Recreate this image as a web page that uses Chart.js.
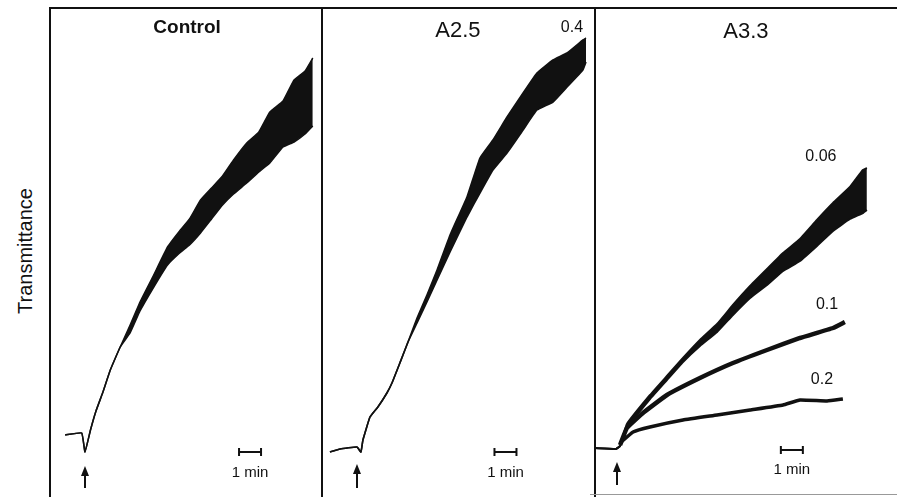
<!DOCTYPE html>
<html>
<head>
<meta charset="utf-8">
<script src="https://cdn.jsdelivr.net/npm/chart.js@4.4.1/dist/chart.umd.min.js"></script>
<style>
  html, body { margin: 0; padding: 0; background: #fff; }
  #fig { position: relative; width: 897px; height: 497px; overflow: hidden; font-family: 'Liberation Sans', Arial, sans-serif; }
  #fig canvas { position: absolute; top: 8px; }
  .rule { position: absolute; background: #111; }
  #ylabel { position: absolute; left: 25px; top: 251px; transform: translate(-50%, -50%) rotate(-90deg); font-size: 20px; white-space: nowrap; color: #111; }
</style>
</head>
<body>
<div id="fig">
  <canvas id="p1" width="272" height="489" style="left:50px"></canvas>
  <canvas id="p2" width="272" height="489" style="left:323px"></canvas>
  <canvas id="p3" width="302" height="489" style="left:595px"></canvas>
  <div class="rule" style="left:49px;top:7px;width:848px;height:2px"></div>
  <div class="rule" style="left:49px;top:7px;width:2px;height:490px"></div>
  <div class="rule" style="left:321px;top:7px;width:2px;height:490px"></div>
  <div class="rule" style="left:594px;top:7px;width:2px;height:490px"></div>
  <div class="rule" style="left:590px;top:494px;width:307px;height:1px;background:#999"></div>
  <div id="ylabel">Transmittance</div>
</div>
<script>
// time after agonist (min) and transmittance (arbitrary units)
// noisy traces are kept as upper / lower envelopes of the band

const controlTime = [-0.9, -0.15, 0, 0.25, 0.5, 0.8, 1.15, 1.6, 2.05, 2.5, 3.1, 3.75, 4.3, 4.75, 5.25, 5.75, 6.25, 6.75, 7.35, 7.9, 8.4, 9.0, 9.5, 10.0, 10.35];
const controlUpper = [12.6, 13.0, 9.2, 13.6, 17.4, 21.0, 25.6, 30.2, 34.6, 39.2, 44.4, 50.2, 53.4, 55.8, 59.6, 62.0, 64.4, 67.6, 71.0, 73.2, 77.2, 79.4, 83.6, 85.4, 88.0];
const controlLower = [12.6, 13.0, 9.2, 13.6, 17.4, 21.0, 25.6, 30.2, 33.0, 37.4, 42.0, 46.6, 49.0, 50.6, 53.0, 55.8, 58.6, 60.8, 63.0, 65.2, 67.0, 70.2, 71.2, 72.8, 74.4];

const a25Time = [-1.23, -0.77, 0, 0.18, 0.27, 0.59, 0.95, 1.36, 1.59, 1.95, 2.32, 2.73, 3.18, 3.64, 4.23, 5.0, 5.59, 6.18, 6.82, 7.55, 8.18, 8.91, 9.55, 10.27, 10.41];
const a25Upper = [9.2, 9.8, 10.2, 9.2, 11.6, 16.2, 18.2, 21.0, 23.0, 27.0, 31.2, 36.0, 40.6, 45.6, 52.6, 60.2, 68.0, 71.6, 76.2, 81.0, 85.0, 87.6, 89.0, 91.6, 92.0];
const a25Lower = [9.2, 9.8, 10.2, 9.2, 11.6, 16.2, 18.2, 21.0, 23.0, 27.0, 31.2, 35.0, 39.2, 43.6, 49.2, 56.2, 61.0, 65.6, 69.0, 73.6, 77.6, 79.2, 82.2, 85.6, 87.2];

const a33Time006 = [-1.0, -0.05, 0.14, 0.45, 1.5, 2.27, 3.0, 3.77, 4.55, 5.27, 6.05, 6.82, 7.55, 8.32, 9.09, 9.82, 10.59, 11.18, 11.36];
const a33Upper006 = [10.0, 9.8, 10.4, 14.8, 20.6, 24.4, 28.0, 31.6, 34.8, 38.6, 42.4, 45.8, 49.0, 51.8, 55.6, 59.0, 62.2, 65.6, 66.0];
const a33Lower006 = [10.0, 9.8, 10.4, 14.0, 19.8, 23.6, 27.2, 30.4, 33.2, 36.6, 40.0, 42.6, 45.4, 47.4, 50.4, 53.4, 55.8, 57.0, 57.6];

const a33Time01 = [0.14, 0.45, 1.18, 2.27, 3.77, 5.27, 6.82, 8.32, 9.82, 10.36];
const a33Value01 = [10.6, 14.0, 17.0, 20.6, 24.0, 27.0, 29.6, 32.0, 34.0, 35.2];

const a33Time02 = [0.14, 0.73, 1.5, 3.0, 4.55, 6.05, 7.55, 8.32, 9.55, 10.27];
const a33Value02 = [11.0, 13.2, 14.2, 15.6, 16.6, 17.6, 18.6, 19.6, 19.4, 19.8];

const ink = '#111';
const FONT = "'Liberation Sans', Arial, sans-serif";

const toPoints = (time, values) => time.map((t, i) => ({ x: t, y: values[i] }));

const line = (time, values, width) => ({
  data: toPoints(time, values),
  borderColor: ink,
  borderWidth: width,
  pointRadius: 0,
  tension: 0.1,
  fill: false,
});

// two datasets, the second one filled up to the first
const band = (time, upper, lower, width) => [
  line(time, upper, width),
  { ...line(time, lower, width), fill: '-1', backgroundColor: ink },
];

const panelDecor = {
  id: 'panelDecor',
  afterDatasetsDraw(chart, args, opts) {
    const { ctx } = chart;
    const { x, y } = chart.scales;
    ctx.save();
    ctx.fillStyle = ink;
    ctx.strokeStyle = ink;
    ctx.textAlign = 'center';
    ctx.textBaseline = 'middle';

    (opts.labels || []).forEach((l) => {
      ctx.font = l.font;
      ctx.fillText(l.text, x.getPixelForValue(l.t), y.getPixelForValue(l.v));
    });

    // 1 min scale bar
    const sb = opts.scaleBar;
    if (sb) {
      const x0 = x.getPixelForValue(sb.t);
      const x1 = x.getPixelForValue(sb.t + 1);
      const yb = y.getPixelForValue(sb.v);
      ctx.lineWidth = 2;
      ctx.beginPath();
      ctx.moveTo(x0, yb); ctx.lineTo(x1, yb);
      ctx.moveTo(x0, yb - 4); ctx.lineTo(x0, yb + 4);
      ctx.moveTo(x1, yb - 4); ctx.lineTo(x1, yb + 4);
      ctx.stroke();
      ctx.font = `15px ${FONT}`;
      ctx.fillText('1 min', (x0 + x1) / 2, y.getPixelForValue(sb.textV));
    }

    // agonist arrow at t = 0
    const ar = opts.arrow;
    if (ar) {
      const xa = x.getPixelForValue(0);
      const yTail = y.getPixelForValue(ar.from);
      const yTip = y.getPixelForValue(ar.to);
      ctx.lineWidth = 2;
      ctx.beginPath();
      ctx.moveTo(xa, yTail); ctx.lineTo(xa, yTip + 6);
      ctx.stroke();
      ctx.beginPath();
      ctx.moveTo(xa, yTip);
      ctx.lineTo(xa - 4, yTip + 10);
      ctx.lineTo(xa + 4, yTip + 10);
      ctx.closePath();
      ctx.fill();
    }
    ctx.restore();
  },
};

const makePanel = (id, xMin, xMax, datasets, decor) => {
  const canvas = document.getElementById(id);
  return new Chart(canvas.getContext('2d'), {
    type: 'line',
    data: { datasets },
    options: {
      responsive: false,
      animation: false,
      layout: { padding: 0 },
      scales: {
        x: { type: 'linear', min: xMin, max: xMax, display: false },
        y: { type: 'linear', min: 0.2, max: 98, display: false },
      },
      plugins: {
        legend: { display: false },
        tooltip: { enabled: false },
        panelDecor: decor,
      },
    },
    plugins: [panelDecor],
  });
};

makePanel('p1', -1.59, 10.77, band(controlTime, controlUpper, controlLower, 1.5), {
  labels: [{ text: 'Control', t: 4.64, v: 94.0, font: `bold 19px ${FONT}` }],
  scaleBar: { t: 7.0, v: 9.2, textV: 5.0 },
  arrow: { from: 2.0, to: 6.4 },
});

makePanel('p2', -1.545, 10.82, band(a25Time, a25Upper, a25Lower, 1.6), {
  labels: [
    { text: 'A2.5', t: 4.59, v: 93.4, font: `22px ${FONT}` },
    { text: '0.4', t: 9.77, v: 94.0, font: `16px ${FONT}` },
  ],
  scaleBar: { t: 6.25, v: 9.2, textV: 5.0 },
  arrow: { from: 2.0, to: 6.8 },
});

makePanel('p3', -1.0, 12.73, [
  ...band(a33Time006, a33Upper006, a33Lower006, 2),
  line(a33Time01, a33Value01, 4.5),
  line(a33Time02, a33Value02, 3.5),
], {
  labels: [
    { text: 'A3.3', t: 5.86, v: 93.2, font: `22px ${FONT}` },
    { text: '0.06', t: 9.27, v: 68.2, font: `16px ${FONT}` },
    { text: '0.1', t: 9.55, v: 38.6, font: `16px ${FONT}` },
    { text: '0.2', t: 9.32, v: 23.6, font: `16px ${FONT}` },
  ],
  scaleBar: { t: 7.45, v: 9.6, textV: 5.6 },
  arrow: { from: 2.6, to: 7.2 },
});
</script>
</body>
</html>
